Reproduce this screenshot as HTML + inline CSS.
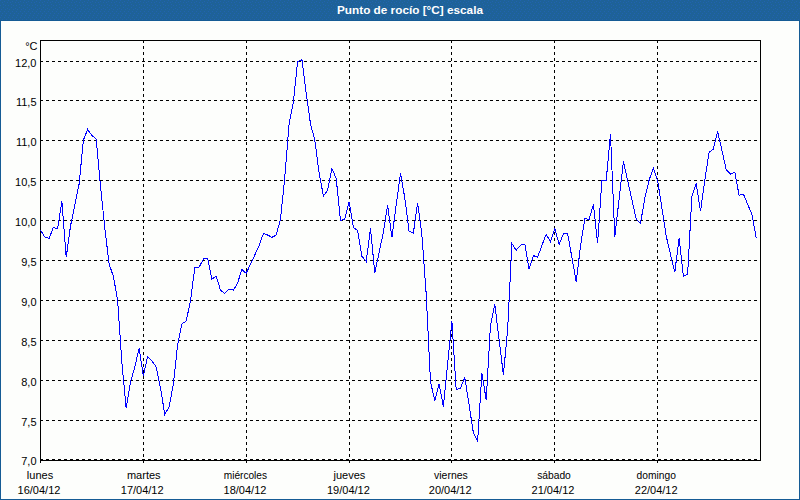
<!DOCTYPE html>
<html lang="es"><head><meta charset="utf-8"><title>Punto de rocío [°C] escala</title>
<style>
html,body{margin:0;padding:0;width:800px;height:500px;overflow:hidden;background:#fdfefc;}
svg{display:block;position:absolute;left:0;top:0;}
text{font-family:"Liberation Sans","DejaVu Sans",sans-serif;font-size:11px;fill:#000;}
.t{font-weight:bold;fill:#fff;}
.g{stroke:#000;stroke-width:1;stroke-dasharray:3 3;fill:none;}
.b{stroke:#000;stroke-width:1;fill:none;}
</style></head><body>
<svg width="800" height="500" viewBox="0 0 800 500">
<rect x="0" y="0" width="800" height="500" fill="#fdfefc"/>
<g shape-rendering="crispEdges">
<defs>
<pattern id="d1" x="0" y="0" width="8" height="9" patternUnits="userSpaceOnUse">
<rect x="0" y="0" width="1" height="1" fill="#2163b0"/><rect x="4" y="1" width="1" height="1" fill="#2163b0"/>
<rect x="2" y="2" width="1" height="1" fill="#2163b0"/><rect x="7" y="2" width="1" height="1" fill="#2163b0"/>
<rect x="3" y="4" width="1" height="1" fill="#2163b0"/><rect x="0" y="5" width="1" height="1" fill="#2163b0"/>
<rect x="5" y="5" width="1" height="1" fill="#2163b0"/><rect x="3" y="7" width="1" height="1" fill="#2163b0"/>
<rect x="7" y="8" width="1" height="1" fill="#2163b0"/>
</pattern>
<pattern id="d2" x="0" y="8" width="4" height="6" patternUnits="userSpaceOnUse">
<rect x="1" y="1" width="1" height="1" fill="#2163b0"/><rect x="0" y="3" width="1" height="1" fill="#2163b0"/>
<rect x="2" y="5" width="1" height="1" fill="#2163b0"/>
</pattern>
</defs>
<rect x="0" y="0" width="800" height="21" fill="#1e6298"/>
<rect x="0" y="0" width="800" height="9" fill="url(#d1)"/>
<rect x="0" y="9" width="800" height="11" fill="url(#d2)"/>
<rect x="0" y="20" width="800" height="1" fill="#155b95"/>
<rect x="0" y="21" width="1" height="479" fill="#155b95"/>
<rect x="799" y="21" width="1" height="479" fill="#155b95"/>
<rect x="0" y="499" width="800" height="1" fill="#155b95"/>
<line class="g" x1="40" y1="61.5" x2="760" y2="61.5"/>
<line class="g" x1="40" y1="100.5" x2="760" y2="100.5"/>
<line class="g" x1="40" y1="140.5" x2="760" y2="140.5"/>
<line class="g" x1="40" y1="180.5" x2="760" y2="180.5"/>
<line class="g" x1="40" y1="220.5" x2="760" y2="220.5"/>
<line class="g" x1="40" y1="260.5" x2="760" y2="260.5"/>
<line class="g" x1="40" y1="300.5" x2="760" y2="300.5"/>
<line class="g" x1="40" y1="340.5" x2="760" y2="340.5"/>
<line class="g" x1="40" y1="380.5" x2="760" y2="380.5"/>
<line class="g" x1="40" y1="420.5" x2="760" y2="420.5"/>
<line class="g" x1="40" y1="459.5" x2="760" y2="459.5"/>
<line class="g" x1="143.5" y1="40" x2="143.5" y2="463"/>
<line class="g" x1="246.5" y1="40" x2="246.5" y2="463"/>
<line class="g" x1="349.5" y1="40" x2="349.5" y2="463"/>
<line class="g" x1="451.5" y1="40" x2="451.5" y2="463"/>
<line class="g" x1="554.5" y1="40" x2="554.5" y2="463"/>
<line class="g" x1="657.5" y1="40" x2="657.5" y2="463"/>
<rect class="b" x="40.5" y="40.5" width="720" height="420"/>
<line class="b" x1="40.5" y1="460" x2="40.5" y2="463"/>
<polyline points="40.5,230.0 44.8,237.0 49.1,238.4 53.4,227.4 57.6,229.0 61.9,201.0 66.2,257.4 70.5,226.0 74.8,205.0 79.1,184.0 83.4,140.0 87.6,129.5 91.9,135.5 96.2,139.0 100.5,186.0 104.8,228.0 109.1,264.0 113.4,276.5 117.6,300.0 121.9,363.0 126.2,408.4 130.5,382.0 134.8,367.0 139.1,348.4 143.4,376.0 147.6,356.4 151.9,361.0 156.2,367.0 160.5,388.0 164.8,414.5 169.1,406.8 173.4,384.0 177.6,345.0 181.9,324.0 186.2,321.0 190.5,301.0 194.8,267.5 199.1,267.2 203.4,259.0 207.6,258.2 211.9,279.0 216.2,276.3 220.5,290.2 224.8,293.4 229.1,289.0 233.4,290.2 237.6,283.0 241.9,269.4 246.2,273.4 250.5,264.0 254.8,255.0 259.1,245.5 263.4,233.5 267.6,235.0 271.9,237.4 276.2,235.0 280.5,219.2 284.8,177.0 289.1,124.0 293.4,102.0 297.6,61.5 301.9,59.6 306.2,93.0 310.5,124.0 314.8,140.0 319.1,173.0 323.4,196.0 327.6,190.4 331.9,168.4 336.2,178.5 340.5,220.5 344.8,219.0 349.1,202.0 353.4,227.5 357.6,230.5 361.9,256.2 366.2,261.5 370.5,228.5 374.8,273.0 379.1,252.5 383.4,232.0 387.6,205.3 391.9,237.4 396.2,205.0 400.5,173.3 404.8,198.0 409.1,231.4 413.4,233.0 417.6,202.6 421.9,235.0 426.2,294.0 430.5,382.0 434.8,400.5 439.1,384.2 443.4,406.6 447.6,364.0 451.9,321.2 456.2,389.8 460.5,388.2 464.8,377.5 469.1,405.0 473.4,433.0 477.6,441.5 481.9,373.0 486.2,400.0 490.5,325.0 494.8,304.4 499.1,340.0 503.4,374.6 507.6,330.0 511.9,243.6 516.2,250.3 520.5,245.2 524.8,244.0 529.1,269.2 533.4,255.6 537.6,257.2 541.9,245.5 546.2,234.3 550.5,242.0 554.8,228.4 559.1,244.4 563.4,234.0 567.6,233.5 571.9,257.4 576.2,282.0 580.5,246.0 584.8,218.8 589.1,219.3 593.4,204.4 597.6,243.3 601.9,180.5 606.2,180.2 610.5,134.3 614.8,237.0 619.1,199.0 623.4,161.5 627.6,180.6 631.9,199.7 636.2,219.0 640.5,223.5 644.8,198.0 649.1,180.2 653.4,168.0 657.6,180.5 661.9,208.0 666.2,236.0 670.5,254.5 674.8,272.3 679.1,238.0 683.4,276.5 687.6,274.4 691.9,196.2 696.2,183.4 700.5,211.2 704.8,180.5 709.1,152.2 713.4,149.0 717.6,131.4 721.9,150.2 726.2,169.8 730.5,174.1 734.8,172.2 739.1,195.4 743.4,194.1 747.6,204.2 751.9,214.4 756.2,237.6" fill="none" stroke="#0000ff" stroke-width="1"/>
</g>
<text class="t" x="410" y="13.8" text-anchor="middle" textLength="146" lengthAdjust="spacingAndGlyphs">Punto de rocío [°C] escala</text>
<text x="37.5" y="50" text-anchor="end">°C</text>
<text x="36.5" y="67" text-anchor="end">12,0</text>
<text x="36.5" y="106" text-anchor="end">11,5</text>
<text x="36.5" y="146" text-anchor="end">11,0</text>
<text x="36.5" y="186" text-anchor="end">10,5</text>
<text x="36.5" y="226" text-anchor="end">10,0</text>
<text x="36.5" y="266" text-anchor="end">9,5</text>
<text x="36.5" y="306" text-anchor="end">9,0</text>
<text x="36.5" y="346" text-anchor="end">8,5</text>
<text x="36.5" y="386" text-anchor="end">8,0</text>
<text x="36.5" y="426" text-anchor="end">7,5</text>
<text x="36.5" y="465" text-anchor="end">7,0</text>
<text x="40" y="479" text-anchor="middle">lunes</text>
<text x="39" y="494" text-anchor="middle">16/04/12</text>
<text x="143.75" y="479" text-anchor="middle">martes</text>
<text x="142.2" y="494" text-anchor="middle">17/04/12</text>
<text x="245.4" y="479" text-anchor="middle" textLength="43.3" lengthAdjust="spacingAndGlyphs">miércoles</text>
<text x="245" y="494" text-anchor="middle">18/04/12</text>
<text x="349.4" y="479" text-anchor="middle">jueves</text>
<text x="348.4" y="494" text-anchor="middle">19/04/12</text>
<text x="450.9" y="479" text-anchor="middle" textLength="33.7" lengthAdjust="spacingAndGlyphs">viernes</text>
<text x="450.2" y="494" text-anchor="middle">20/04/12</text>
<text x="554" y="479" text-anchor="middle" textLength="33.7" lengthAdjust="spacingAndGlyphs">sábado</text>
<text x="553" y="494" text-anchor="middle">21/04/12</text>
<text x="656.25" y="479" text-anchor="middle" textLength="39.3" lengthAdjust="spacingAndGlyphs">domingo</text>
<text x="656.2" y="494" text-anchor="middle">22/04/12</text>
</svg>
</body></html>
